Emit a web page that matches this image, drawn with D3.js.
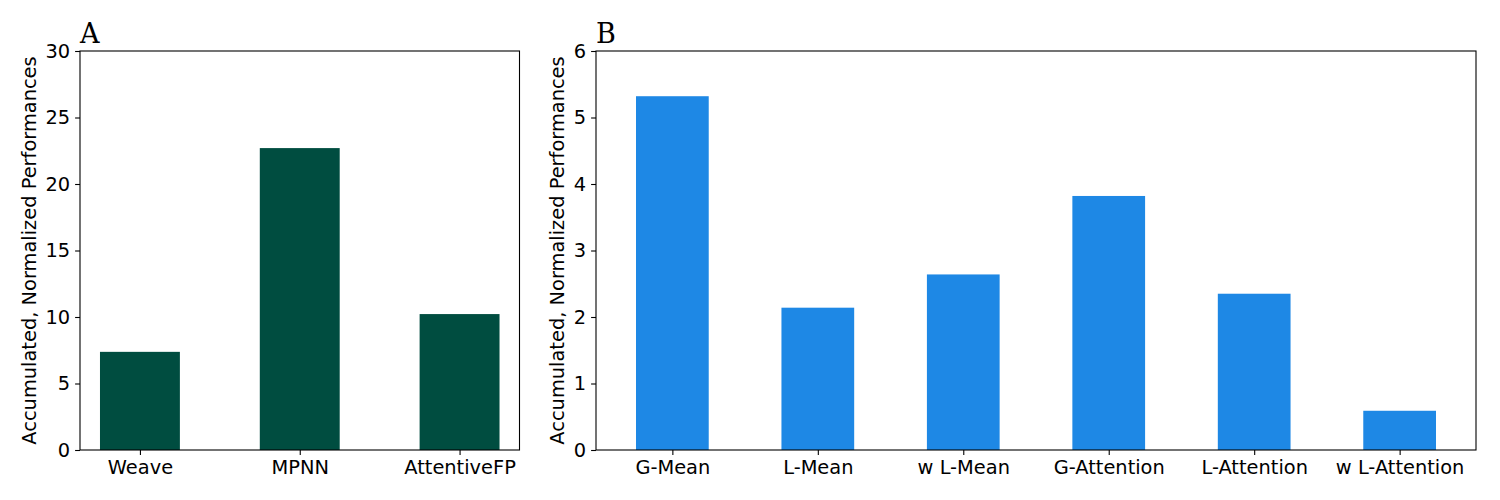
<!DOCTYPE html>
<html>
<head>
<meta charset="utf-8">
<script src="https://cdn.jsdelivr.net/npm/d3@7"></script>
<style>
  body { margin: 0; background: #fff; }
  svg text { font-family: "DejaVu Sans", sans-serif; fill: #000; }
</style>
</head>
<body>
<div id="chart"></div>
<script>
// values
const modelsA = ["Weave", "MPNN", "AttentiveFP"];
const scoresA = [7.38, 22.7, 10.22];
const ticksA = [0, 5, 10, 15, 20, 25, 30];

const poolingB = ["G-Mean", "L-Mean", "w L-Mean", "G-Attention", "L-Attention", "w L-Attention"];
const scoresB = [5.32, 2.14, 2.64, 3.82, 2.35, 0.59];
const ticksB = [0, 1, 2, 3, 4, 5, 6];

const yTitle = "Accumulated, Normalized Performances";
const fs = 19.4;

const svg = d3.select("#chart")
    .append("svg")
    .attr("width", 1500)
    .attr("height", 500);

function drawPanel(opts) {
    const { left, right, top, bottom, cats, vals, ticks, ymax, xdom, color, letter, labelX } = opts;

    const x = d3.scaleLinear().domain(xdom).range([left, right]);
    const y = d3.scaleLinear().domain([0, ymax]).range([bottom, top]);
    const barW = x(0.5) - x(0);

    const g = svg.append("g");

    // bars
    g.selectAll("rect")
        .data(vals)
        .join("rect")
        .attr("x", (d, i) => x(i) - barW / 2)
        .attr("y", (d) => y(d))
        .attr("width", barW)
        .attr("height", (d) => y(0) - y(d))
        .attr("fill", color);

    // frame
    g.append("rect")
        .attr("x", left)
        .attr("y", top)
        .attr("width", right - left)
        .attr("height", bottom - top)
        .attr("fill", "none")
        .attr("stroke", "#000")
        .attr("stroke-width", 1.1);

    // y axis
    const yAxis = g.append("g")
        .attr("transform", `translate(${left},0)`)
        .call(d3.axisLeft(y).tickValues(ticks).tickSize(4.9).tickPadding(4.9).tickFormat(d3.format("d")));
    yAxis.select(".domain").remove();

    // x axis
    const xAxis = g.append("g")
        .attr("transform", `translate(0,${bottom})`)
        .call(d3.axisBottom(x).tickValues(d3.range(cats.length)).tickSize(4.9).tickPadding(4.9)
            .tickFormat((i) => cats[i]));
    xAxis.select(".domain").remove();

    g.selectAll(".tick line").attr("stroke", "#000").attr("stroke-width", 1.1);
    g.selectAll(".tick text")
        .style("font-family", "DejaVu Sans, sans-serif")
        .style("font-size", fs + "px")
        .attr("fill", "#000");

    // y label
    g.append("text")
        .attr("transform", `translate(${labelX},${(top + bottom) / 2}) rotate(-90)`)
        .attr("text-anchor", "middle")
        .style("font-size", fs + "px")
        .text(yTitle);

    // panel letter
    g.append("text")
        .attr("x", left)
        .attr("y", top - 8)
        .style("font-family", "DejaVu Serif, serif")
        .style("font-size", "27px")
        .text(letter);
}

drawPanel({
    left: 80, right: 519.5, top: 51, bottom: 450,
    cats: modelsA, vals: scoresA, ticks: ticksA, ymax: 30,
    xdom: [-0.375, 2.375], color: "#004D40", letter: "A", labelX: 36
});

drawPanel({
    left: 596, right: 1476, top: 51, bottom: 450,
    cats: poolingB, vals: scoresB, ticks: ticksB, ymax: 6,
    xdom: [-0.525, 5.525], color: "#1E88E5", letter: "B", labelX: 564
});
</script>
</body>
</html>
